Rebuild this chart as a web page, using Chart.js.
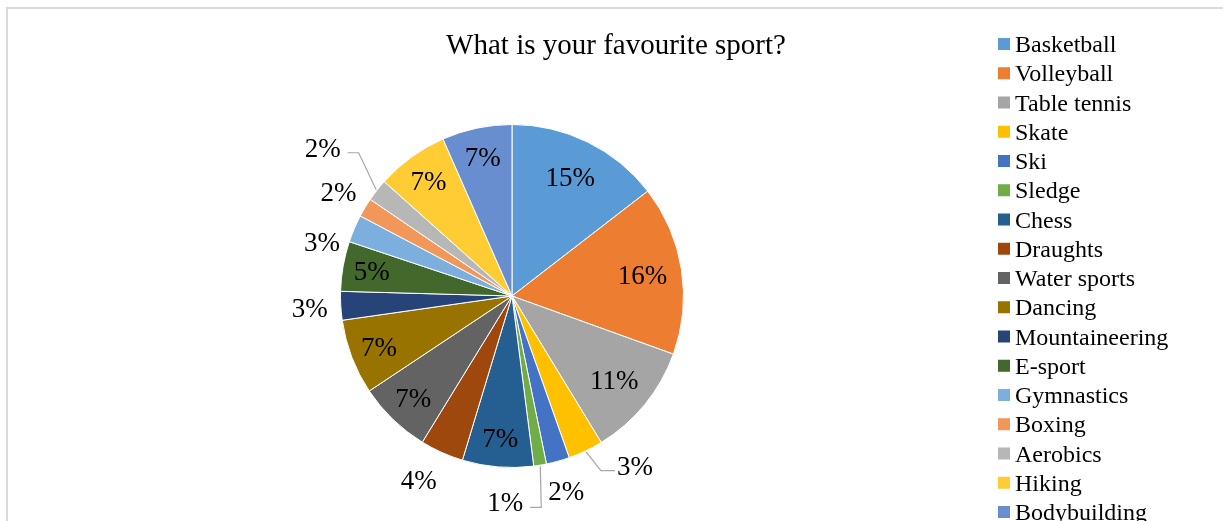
<!DOCTYPE html>
<html>
<head>
<meta charset="utf-8">
<title>What is your favourite sport?</title>
<script src="https://cdn.jsdelivr.net/npm/chart.js@4.4.0/dist/chart.umd.min.js"></script>
<style>
  html, body { margin: 0; padding: 0; background: #fff; overflow: hidden; }
  canvas { display: block; }
</style>
</head>
<body>
<canvas id="sportChart" width="1223" height="521"></canvas>
<script>
// Survey data
const sports = ['Basketball', 'Volleyball', 'Table tennis', 'Skate', 'Ski', 'Sledge', 'Chess', 'Draughts',
  'Water sports', 'Dancing', 'Mountaineering', 'E-sport', 'Gymnastics', 'Boxing', 'Aerobics', 'Hiking', 'Bodybuilding'];
const shares = [14.55, 16.0, 10.8, 3.3, 2.2, 1.2, 6.7, 4.1, 6.9, 7.1, 2.7, 4.7, 2.6, 1.8, 2.1, 6.8, 6.6];
const sliceColors = ['#5B9BD5', '#ED7D31', '#A5A5A5', '#FFC000', '#4472C4', '#70AD47', '#255E91', '#9E480E',
  '#636363', '#997300', '#264478', '#43682B', '#7CAFDD', '#F1975A', '#B7B7B7', '#FFCD33', '#698ED0'];
const chartTitle = 'What is your favourite sport?';

const serif = '"Liberation Serif", "Times New Roman", serif';

// Small slices get their label outside; some are pushed aside and get a leader line
const labelNudges = {
  'Skate': { da: -10.5, dr: 7, leader: true },
  'Sledge': { da: 11.3, dr: 4, leader: true },
  'Gymnastics': { da: -7.2, dr: -5 },
  'Draughts': { da: 2.7, dr: 4 },
  'Aerobics': { da: 0, dr: 38, leader: true }
};

const sportLabels = {
  id: 'sportLabels',
  beforeDraw(chart) {
    const ctx = chart.ctx;
    ctx.save();
    ctx.strokeStyle = '#d9d9d9';
    ctx.lineWidth = 2;
    ctx.strokeRect(7, 8, 1240, 540);
    ctx.restore();
  },
  afterDraw(chart) {
    const ctx = chart.ctx;
    const arcs = chart.getDatasetMeta(0).data;
    const total = shares.reduce((a, b) => a + b, 0);
    ctx.save();

    // Title
    ctx.fillStyle = '#000';
    ctx.font = '29px ' + serif;
    ctx.textAlign = 'center';
    ctx.textBaseline = 'alphabetic';
    ctx.fillText(chartTitle, 616, 54);

    // Percentage labels
    ctx.font = '27px ' + serif;
    arcs.forEach((arc, i) => {
      const pct = shares[i] / total * 100;
      const text = Math.round(pct) + '%';
      const R = arc.outerRadius;
      const mid = (arc.startAngle + arc.endAngle) / 2;
      const w = ctx.measureText(text).width;
      let lx, ly;
      if (pct >= 4.5) {
        const r = pct >= 10 ? R * 0.77 : R * 0.83;
        lx = arc.x + r * Math.cos(mid);
        ly = arc.y + r * Math.sin(mid);
      } else {
        const n = labelNudges[sports[i]] || { da: 0, dr: 0 };
        const a = mid + n.da * Math.PI / 180;
        const r = R + 31 + n.dr;
        lx = arc.x + r * Math.cos(a);
        ly = arc.y + r * Math.sin(a);
        if (n.leader) {
          const px = arc.x + (R + 1) * Math.cos(mid);
          const py = arc.y + (R + 1) * Math.sin(mid);
          const right = lx > px;
          const edge = right ? lx - w / 2 : lx + w / 2;
          const ey = ly + 5;
          ctx.beginPath();
          ctx.strokeStyle = '#a6a6a6';
          ctx.lineWidth = 1.2;
          ctx.moveTo(px, py);
          ctx.lineTo(right ? edge - 16 : edge + 18, ey);
          ctx.lineTo(right ? edge - 2 : edge + 7, ey);
          ctx.stroke();
        }
      }
      ctx.fillStyle = '#000';
      ctx.textAlign = 'center';
      ctx.fillText(text, lx, ly + 9);
    });

    // Legend
    ctx.font = '24px ' + serif;
    ctx.textAlign = 'left';
    sports.forEach((name, i) => {
      const y = 44 + i * 29.25;
      ctx.fillStyle = sliceColors[i];
      ctx.fillRect(998, y - 6, 12, 12);
      ctx.fillStyle = '#000';
      ctx.fillText(name, 1015, y + 8);
    });
    ctx.restore();
  }
};

const sportChart = new Chart(document.getElementById('sportChart'), {
  type: 'pie',
  data: {
    labels: sports,
    datasets: [{
      data: shares,
      backgroundColor: sliceColors,
      borderColor: '#fff',
      borderWidth: 1
    }]
  },
  options: {
    responsive: false,
    animation: false,
    events: [],
    layout: {
      padding: { left: 340, right: 539, top: 124, bottom: 53 }
    },
    plugins: {
      legend: { display: false },
      title: { display: false },
      tooltip: { enabled: false }
    }
  },
  plugins: [sportLabels]
});
</script>
</body>
</html>
